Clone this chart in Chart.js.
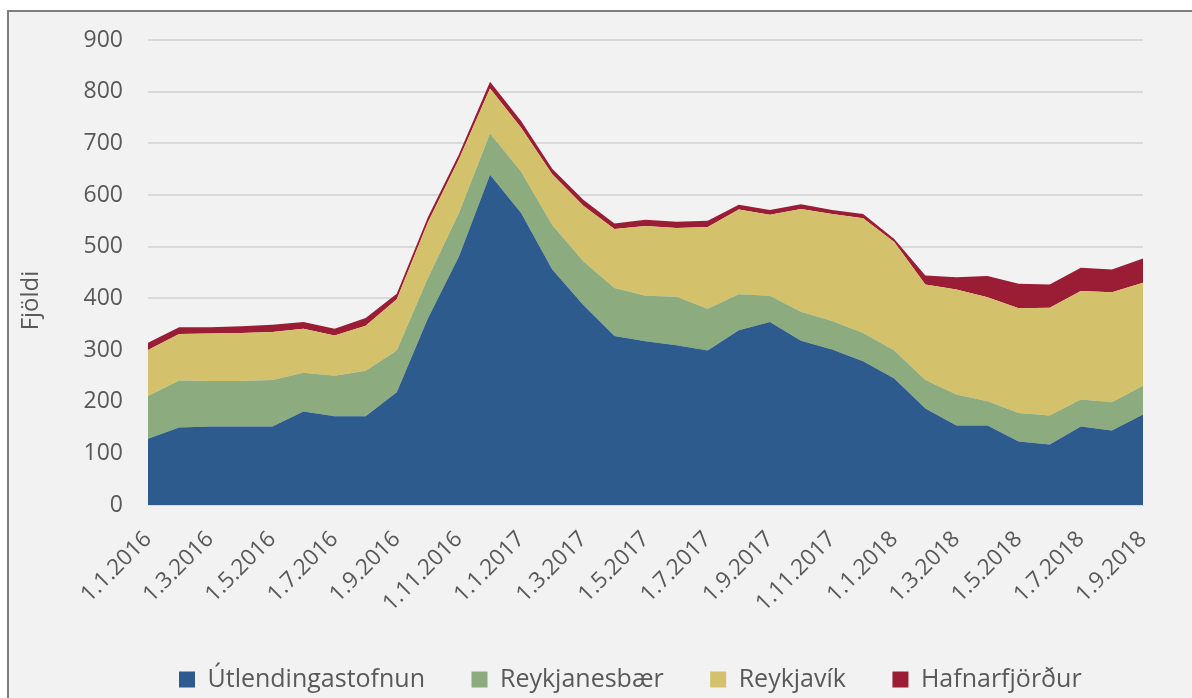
<!DOCTYPE html>
<html>
<head>
<meta charset="utf-8">
<script src="https://cdn.jsdelivr.net/npm/chart.js@4/dist/chart.umd.min.js"></script>
<style>
  html, body { margin: 0; padding: 0; background: #ffffff; width: 1192px; height: 698px; overflow: hidden; }
  #frame { position: absolute; left: 7px; top: 10px; width: 1200px; height: 700px; border: 2px solid #7f7f7f; background: #f2f2f2; }
  #c { position: absolute; left: 0; top: 0; }
</style>
</head>
<body>
<div id="frame"></div>
<canvas id="c" width="1192" height="698"></canvas>
<script>
const categories = [
  "1.1.2016","1.2.2016","1.3.2016","1.4.2016","1.5.2016","1.6.2016","1.7.2016","1.8.2016","1.9.2016","1.10.2016","1.11.2016","1.12.2016",
  "1.1.2017","1.2.2017","1.3.2017","1.4.2017","1.5.2017","1.6.2017","1.7.2017","1.8.2017","1.9.2017","1.10.2017","1.11.2017","1.12.2017",
  "1.1.2018","1.2.2018","1.3.2018","1.4.2018","1.5.2018","1.6.2018","1.7.2018","1.8.2018","1.9.2018"
];
const utlendingastofnun = [128,150,152,152,152,181,172,172,218,361,481,639,565,456,387,327,317,309,299,338,354,318,301,278,245,187,154,154,123,117,152,144,175];
const reykjanesbaer     = [83,91,88,88,90,75,78,88,81,78,84,80,80,86,85,93,88,94,81,70,51,56,55,55,54,55,60,47,55,56,52,55,56];
const reykjavik         = [89,90,92,93,93,85,78,87,99,108,104,87,85,98,107,114,135,133,158,164,157,199,207,222,210,185,203,201,203,209,210,213,199];
const hafnarfjordur     = [14,13,12,13,14,13,13,15,11,10,10,13,13,11,12,11,12,12,12,9,9,9,8,8,6,17,24,41,47,45,45,44,47];
const seriesNames = ["Útlendingastofnun","Reykjanesbær","Reykjavík","Hafnarfjörður"];
const yTicks = { min: 0, max: 900, step: 100 };
const yTitle = "Fjöldi";

const colors = ["#2d5b8e","#8cab7e","#d4c16b","#9b1c35"];
const textColor = "#595959";
const fontFamily = "'Open Sans', 'Noto Sans', sans-serif";

const seriesData = [utlendingastofnun, reykjanesbaer, reykjavik, hafnarfjordur];
const datasets = seriesData.map((d, i) => ({
  label: seriesNames[i],
  data: d,
  backgroundColor: colors[i],
  borderColor: colors[i],
  borderWidth: 0,
  pointRadius: 0,
  pointHoverRadius: 0,
  fill: i === 0 ? 'origin' : '-1',
  tension: 0
}));

const yTitlePlugin = {
  id: 'yTitlePlugin',
  afterDraw(chart) {
    const ca = chart.chartArea;
    const ctx = chart.ctx;
    ctx.save();
    ctx.font = "24px " + fontFamily;
    ctx.fillStyle = textColor;
    ctx.textAlign = 'center';
    ctx.textBaseline = 'middle';
    ctx.translate(31, (ca.top + ca.bottom) / 2 + 28);
    ctx.rotate(-Math.PI / 2);
    ctx.fillText(yTitle, 0, 0);
    ctx.restore();
  }
};

const legendGap = 46.5;
const legendShift = 132.5;
const legendShiftPlugin = {
  id: 'legendShiftPlugin',
  afterLayout(chart) {
    if (chart.legend) { chart.legend.left += legendShift; }
  }
};

new Chart(document.getElementById('c'), {
  type: 'line',
  data: { labels: categories, datasets: datasets },
  plugins: [yTitlePlugin, legendShiftPlugin],
  options: {
    responsive: false,
    animation: false,
    events: [],
    layout: { padding: { left: 0, right: 49, top: 40, bottom: -4 } },
    plugins: {
      legend: {
        position: 'bottom',
        align: 'start',
        labels: {
          boxWidth: 16,
          boxHeight: 16,
          padding: legendGap,
          color: textColor,
          font: { family: fontFamily, size: 25 }
        }
      },
      tooltip: { enabled: false },
      filler: { propagate: false }
    },
    scales: {
      x: {
        offset: false,
        grid: { display: false, drawTicks: false },
        border: { display: true, color: '#d9d9d9', width: 1 },
        ticks: {
          autoSkip: false,
          maxRotation: 45,
          minRotation: 45,
          padding: 21,
          color: textColor,
          font: { family: fontFamily, size: 22.5 },
          callback: function(v, i) { return i % 2 === 0 ? categories[i] : ''; }
        },
        afterFit: function(scale) { scale.height = 115.5; }
      },
      y: {
        stacked: true,
        min: yTicks.min,
        max: yTicks.max,
        grid: { color: '#d9d9d9', lineWidth: 2, drawTicks: false },
        border: { display: false },
        ticks: {
          stepSize: yTicks.step,
          padding: 25,
          color: textColor,
          font: { family: fontFamily, size: 23 }
        },
        afterFit: function(scale) { scale.width = 148; }
      }
    }
  }
});
</script>
</body>
</html>
